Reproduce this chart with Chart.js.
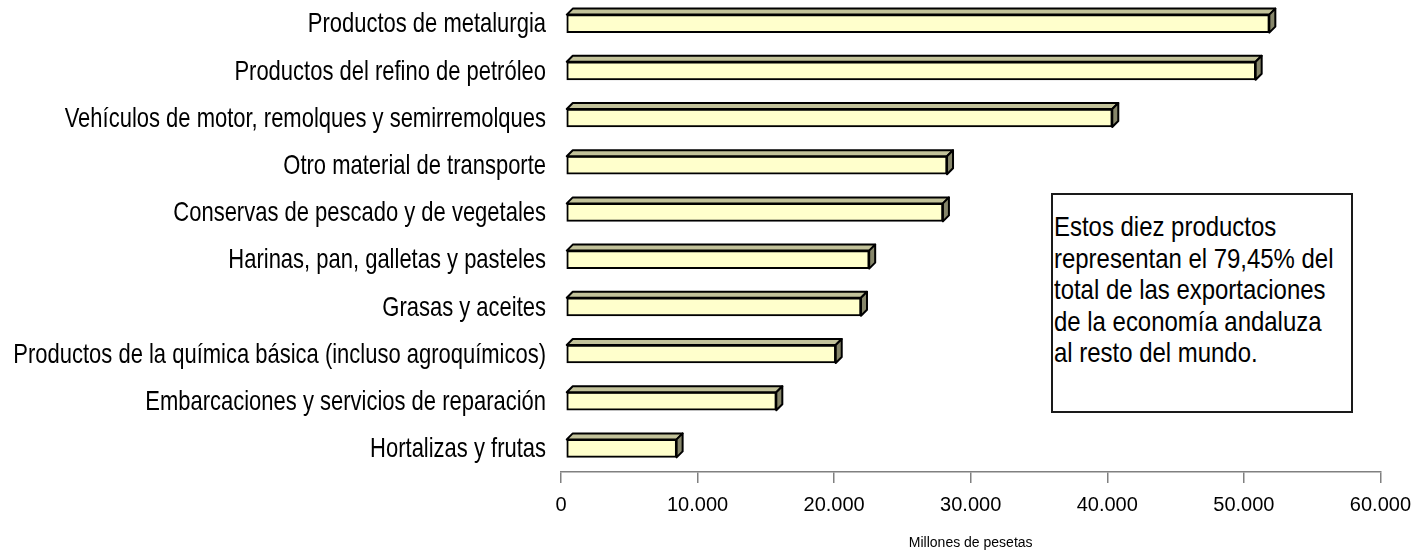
<!DOCTYPE html>
<html>
<head>
<meta charset="utf-8">
<script src="https://cdn.jsdelivr.net/npm/chart.js@4"></script>
<style>
  body { margin: 0; background: #fff; }
  #wrap { position: relative; width: 1421px; height: 556px; }
  #note {
    position: absolute; left: 1051px; top: 193px; width: 302px; height: 220px;
    box-sizing: border-box; border: 2px solid #1a1a1a; background: #fff;
    padding: 16px 0 0 1px; overflow: hidden;
  }
  #note div {
    font-family: "Liberation Sans", Arial, sans-serif;
    font-size: 28px; line-height: 31.5px; color: #000;
    white-space: nowrap;
    transform: scaleX(0.855); transform-origin: left top;
  }
</style>
</head>
<body>
<div id="wrap">
  <canvas id="exportChart"></canvas>
  <div id="note"><div>Estos diez productos<br>representan el 79,45% del<br>total de las exportaciones<br>de la economía andaluza<br>al resto del mundo.</div></div>
</div>
<script>
const productos = [
  'Productos de metalurgia',
  'Productos del refino de petróleo',
  'Vehículos de motor, remolques y semirremolques',
  'Otro material de transporte',
  'Conservas de pescado y de vegetales',
  'Harinas, pan, galletas y pasteles',
  'Grasas y aceites',
  'Productos de la química básica (incluso agroquímicos)',
  'Embarcaciones y servicios de reparación',
  'Hortalizas y frutas'
];
const millones = [51500, 50500, 40000, 27900, 27600, 22200, 21600, 19750, 15400, 8100];
const xMin = 0;
const xMax = 60000;
const xStep = 10000;
const xTitle = 'Millones de pesetas';

const arial = '"Liberation Sans", Arial, sans-serif';

// pseudo 3D: bars sit a little behind the axis plane, with a top and a side face
const depth = 6;
const shift = 5;
const bar3d = {
  id: 'bar3d',
  beforeDatasetsDraw(chart) {
    chart.ctx.save();
    chart.ctx.translate(shift, 0);
  },
  afterDatasetsDraw(chart) {
    const ctx = chart.ctx;
    ctx.lineWidth = 2;
    ctx.lineJoin = 'round';
    ctx.strokeStyle = '#000';
    chart.getDatasetMeta(0).data.forEach(bar => {
      const p = bar.getProps(['x', 'y', 'base', 'height'], true);
      const top = p.y - p.height / 2, bottom = p.y + p.height / 2;
      const left = p.base, right = p.x;

      ctx.beginPath();
      ctx.moveTo(left, top);
      ctx.lineTo(left + depth, top - depth);
      ctx.lineTo(right + depth, top - depth);
      ctx.lineTo(right, top);
      ctx.closePath();
      ctx.fillStyle = '#c2c29a';
      ctx.fill();
      ctx.stroke();

      ctx.beginPath();
      ctx.moveTo(right, top);
      ctx.lineTo(right + depth, top - depth);
      ctx.lineTo(right + depth, bottom - depth);
      ctx.lineTo(right, bottom);
      ctx.closePath();
      ctx.fillStyle = '#86866a';
      ctx.fill();
      ctx.stroke();
    });
    ctx.restore();
  }
};

// category labels in a narrow face (no Arial Narrow installed, so squeeze Arial)
const narrowLabels = {
  id: 'narrowLabels',
  afterDraw(chart) {
    const ctx = chart.ctx;
    const ys = chart.scales.y;
    ctx.save();
    ctx.font = '28px ' + arial;
    ctx.fillStyle = '#000';
    ctx.textAlign = 'right';
    ctx.textBaseline = 'middle';
    chart.data.labels.forEach((label, i) => {
      ctx.save();
      ctx.translate(chart.chartArea.left - 15, ys.getPixelForTick(i) + 1);
      ctx.scale(0.785, 1);
      ctx.fillText(label, 0, 0);
      ctx.restore();
    });
    ctx.restore();
  }
};

const ctx = document.getElementById('exportChart').getContext('2d');
new Chart(ctx, {
  type: 'bar',
  data: {
    labels: productos,
    datasets: [{
      data: millones,
      backgroundColor: '#ffffcc',
      borderColor: '#000',
      borderWidth: 2,
      borderSkipped: false,
      barThickness: 18
    }]
  },
  options: {
    indexAxis: 'y',
    responsive: true,
    maintainAspectRatio: false,
    animation: false,
    layout: { padding: { top: 0, right: 37, bottom: 0, left: 0 } },
    plugins: {
      legend: { display: false },
      tooltip: { enabled: false }
    },
    scales: {
      x: {
        min: xMin,
        max: xMax,
        afterFit: s => { s.height = 84; },
        ticks: {
          stepSize: xStep,
          color: '#000',
          padding: 10,
          font: { family: arial, size: 20 },
          callback: v => String(v).replace(/\B(?=(\d{3})+(?!\d))/g, '.')
        },
        grid: { drawOnChartArea: false, tickLength: 11, color: '#808080', lineWidth: 1.5 },
        border: { color: '#808080', width: 1.5 },
        title: {
          display: true,
          text: xTitle,
          color: '#000',
          font: { family: arial, size: 14 },
          padding: { top: 10, bottom: 4 }
        }
      },
      y: {
        afterFit: s => { s.width = 561; s.paddingTop = 0; s.paddingBottom = 0; },
        ticks: { display: false },
        grid: { display: false },
        border: { display: false }
      }
    }
  },
  plugins: [bar3d, narrowLabels]
});
</script>
</body>
</html>
